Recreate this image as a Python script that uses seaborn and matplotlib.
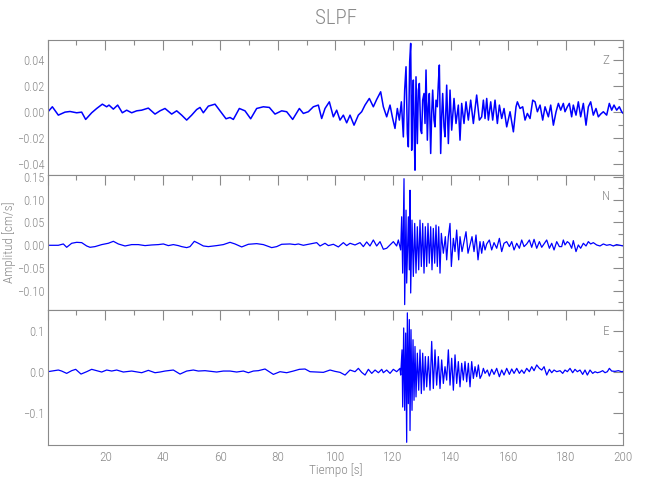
import matplotlib
matplotlib.use("Agg")
import matplotlib.pyplot as plt
from matplotlib import font_manager as fm
import seaborn as sns
from matplotlib.ticker import MultipleLocator, FuncFormatter

# ---------------- data (time in s, amplitude in cm/s) ----------------
station = "SLPF"
components = ["Z", "N", "E"]
x_ticks = [20, 40, 60, 80, 100, 120, 140, 160, 180, 200]

t_z = [0.0, 1.61, 3.69, 6.01, 7.75, 10.06, 11.8, 13.19, 15.28, 17.02,
       18.99, 20.49, 21.3, 22.81, 24.31, 25.93, 27.44, 29.18, 30.92, 32.65,
       34.97, 37.29, 39.02, 40.76, 43.08, 44.82, 46.55, 48.29, 50.03, 51.77,
       52.93, 54.08, 55.82, 58.14, 59.88, 61.96, 63.35, 64.51, 66.59, 68.56,
       70.53, 72.62, 74.93, 77.02, 78.99, 81.31, 83.05, 85.13, 87.45, 88.84,
       90.57, 92.31, 94.05, 95.21, 96.37, 97.87, 99.26, 100.42, 101.58, 102.74,
       103.9, 105.06, 106.45, 107.95, 109.11, 110.27, 111.77, 113.16, 114.32, 115.71,
       116.64, 117.8, 118.96, 119.88, 120.69, 121.5, 122.2, 122.9, 123.59, 124.05,
       124.52, 124.98, 125.33, 125.79, 126.14, 126.49, 126.83, 127.06, 127.41, 127.64,
       127.99, 128.45, 128.8, 129.15, 129.61, 129.96, 130.31, 130.77, 131.12, 131.47,
       131.93, 132.28, 132.62, 133.09, 133.44, 133.78, 134.25, 134.6, 134.94, 135.4,
       135.75, 136.1, 136.56, 136.91, 137.26, 137.72, 138.07, 138.65, 139.23, 139.81,
       140.39, 141.2, 141.89, 142.7, 143.28, 143.86, 144.67, 145.37, 146.18, 146.99,
       147.92, 149.07, 150.0, 150.82, 151.4, 151.98, 152.56, 153.14, 153.95, 154.64,
       155.45, 156.26, 156.96, 157.77, 158.58, 159.51, 160.67, 161.83, 162.75, 163.22,
       164.14, 165.07, 165.88, 166.69, 167.62, 168.55, 169.36, 170.17, 171.1, 172.02,
       172.83, 173.99, 174.8, 175.73, 176.66, 177.47, 178.28, 179.19, 179.77, 180.58,
       181.27, 182.08, 182.66, 183.59, 184.4, 185.21, 186.14, 187.07, 187.88, 188.69,
       189.61, 190.54, 191.35, 192.16, 193.09, 194.25, 195.17, 195.99, 196.8, 197.72,
       198.65, 199.46, 200.0]
z_amp = [0.0, 0.0041, -0.0023, 0.0, 0.0005, -0.0005, 0.0, -0.0056, -0.0005, 0.0028,
         0.0061, 0.0041, 0.0054, 0.0023, 0.0054, -0.0005, 0.0015, -0.0005, 0.001, 0.0015,
         0.0031, -0.0015, 0.001, 0.0028, -0.0015, 0.001, -0.0023, -0.0061, -0.0023, 0.002,
         0.0036, -0.0005, 0.0046, 0.0061, 0.001, -0.0051, -0.0041, -0.0056, 0.0028, 0.001,
         -0.0051, 0.0028, 0.0041, 0.0036, -0.0015, 0.001, 0.0003, -0.0056, 0.0028, -0.001,
         0.0003, 0.0041, 0.0054, -0.0049, 0.0028, 0.0079, -0.0036, 0.0015, -0.0061, -0.0023,
         -0.0082, -0.0023, -0.010, -0.0023, 0.0003, 0.0054, 0.0105, 0.0041, 0.0097, 0.0156,
         0.0041, -0.0036, 0.0054, -0.0049, -0.0125, 0.0028, -0.0061, 0.0079, -0.019, 0.0169,
         0.0348, -0.0164, -0.0266, 0.0387, 0.0527, -0.0292, 0.0118, 0.0246, -0.0215, -0.0445,
         0.0271, -0.0241, 0.0169, 0.022, -0.0138, -0.0164, 0.0092, 0.0143, -0.0087, 0.0323,
         -0.0215, 0.0041, 0.0143, -0.0317, -0.001, 0.0169, -0.0061, -0.0113, 0.0092, 0.0041,
         0.022, 0.0361, -0.0317, -0.0036, 0.0143, -0.0113, -0.0189, 0.0207, -0.0241, 0.0169,
         -0.0138, 0.0105, -0.0087, 0.0054, -0.0215, 0.0067, -0.0087, 0.0079, -0.0061, 0.0092,
         -0.0087, 0.0131, -0.0061, -0.0036, 0.0092, -0.0049, 0.0105, -0.0061, 0.0079, -0.0061,
         0.0092, -0.0087, 0.0054, -0.0049, 0.0028, -0.0113, 0.0003, -0.0151, 0.0041, 0.0079,
         0.0028, 0.0041, -0.0061, -0.001, -0.0049, 0.0092, 0.0079, 0.0003, 0.0054, -0.0061,
         0.0041, -0.0036, 0.0054, -0.01, 0.0003, 0.0067, 0.0015, 0.0067, 0.0003, 0.0041,
         0.0067, -0.0036, 0.0054, -0.0023, 0.0079, -0.0036, 0.0067, -0.01, 0.0041, 0.0079,
         -0.0023, 0.0028, -0.0036, -0.0015, 0.0003, -0.0023, 0.0067, 0.0015, 0.0054, 0.0015,
         0.0041, 0.0003, -0.001]

t_n = [0.0, 3.69, 5.43, 6.59, 8.33, 10.07, 11.81, 13.54, 14.7, 16.44,
       18.76, 21.07, 22.81, 24.55, 26.87, 29.18, 31.5, 33.82, 36.13, 38.45,
       40.19, 41.93, 43.66, 45.4, 46.56, 48.3, 49.45, 50.96, 52.35, 54.09,
       55.82, 58.72, 61.03, 63.35, 65.09, 67.41, 69.73, 72.62, 74.94, 77.84,
       79.57, 81.31, 84.21, 85.95, 87.11, 88.84, 91.16, 93.48, 94.64, 96.37,
       97.53, 99.27, 101.0, 102.74, 103.9, 105.06, 106.79, 108.53, 109.69, 110.85,
       112.0, 113.16, 114.32, 115.48, 116.64, 117.8, 118.96, 120.11, 121.27, 121.85,
       122.66, 123.01, 123.36, 123.82, 124.05, 124.52, 124.75, 125.33, 125.67, 125.91,
       126.14, 126.6, 127.06, 127.53, 127.99, 128.45, 128.92, 129.38, 129.84, 130.31,
       130.77, 131.23, 131.7, 132.16, 132.62, 133.09, 133.55, 134.01, 134.48, 134.94,
       135.4, 135.87, 136.33, 136.79, 137.49, 138.18, 138.65, 139.23, 139.81, 140.27,
       140.97, 141.54, 142.12, 142.82, 143.28, 143.98, 144.67, 145.37, 146.06, 146.76,
       147.45, 148.15, 148.84, 149.54, 150.23, 150.82, 151.4, 151.98, 152.56, 153.48,
       154.29, 155.11, 156.03, 156.96, 157.77, 158.58, 159.51, 160.44, 161.25, 162.06,
       162.99, 163.91, 164.72, 165.54, 166.46, 167.39, 168.2, 169.01, 169.94, 170.86,
       171.68, 172.49, 173.41, 174.34, 175.15, 175.96, 176.89, 177.81, 178.61, 179.19,
       179.77, 180.58, 181.27, 182.08, 182.66, 183.59, 184.4, 185.21, 186.14, 187.07,
       187.88, 188.69, 189.61, 190.77, 191.93, 193.09, 194.25, 195.41, 196.57, 197.72,
       198.88, 200.0]
n_amp = [0.0, 0.0, 0.0029, -0.0044, 0.0044, 0.0065, 0.0058, -0.0015, -0.0044, -0.0029,
         0.0015, 0.0044, 0.0087, 0.0029, -0.0015, 0.0015, 0.0015, -0.0007, 0.0007, 0.0015,
         0.0029, -0.0007, 0.0015, -0.0007, -0.0029, -0.0051, -0.0029, 0.0087, 0.0044, -0.0015,
         -0.0029, -0.0007, 0.0015, 0.0065, 0.0029, -0.0036, 0.0022, 0.0036, 0.0015, -0.0051,
         -0.0029, 0.0022, 0.0029, 0.0015, 0.0029, 0.0, 0.0029, 0.0058, -0.0015, 0.0044,
         -0.0007, 0.0022, -0.0036, 0.0058, -0.0007, 0.0044, 0.0007, 0.0058, -0.0029, 0.0073,
         -0.0015, 0.0116, -0.0015, 0.008, -0.0087, -0.0065, 0.0007, 0.008, -0.0015, 0.0116,
         -0.0102, 0.0624, -0.0609, 0.1457, -0.1298, 0.0769, -0.0827, 0.0624, -0.0537, 0.1204,
         -0.1044, 0.0551, -0.0682, 0.0479, -0.0609, 0.0406, -0.0537, 0.0551, -0.0464, 0.0479,
         -0.0609, 0.0406, -0.0464, 0.0479, -0.0392, 0.0406, -0.0537, 0.037, -0.0392, 0.0442,
         -0.0464, 0.0406, -0.0609, 0.0261, -0.0174, 0.0189, -0.0319, 0.0189, 0.0479, -0.0464,
         0.0152, -0.0138, 0.0334, -0.0319, 0.0189, -0.0138, 0.008, 0.0297, -0.0174, 0.0007,
         0.0189, -0.0138, 0.0225, -0.0319, 0.008, -0.0174, 0.008, -0.0102, 0.0029, 0.0116,
         -0.0102, 0.0058, -0.0065, 0.0152, -0.0138, 0.0044, 0.008, -0.0029, 0.008, -0.0102,
         0.0044, -0.0065, 0.0116, -0.0029, 0.0029, 0.0116, -0.0044, 0.013, -0.0065, 0.008,
         -0.0044, 0.0029, 0.0116, -0.0065, 0.0044, -0.0102, 0.008, -0.0029, -0.0029, 0.0116,
         0.0007, 0.008, 0.0044, -0.0065, 0.0102, -0.0138, 0.0007, -0.0065, 0.0044, -0.0015,
         0.008, 0.0029, 0.0058, 0.0007, -0.0015, 0.0029, 0.0, 0.0015, -0.0015, 0.0015,
         0.0, -0.0015]

t_e = [0.0, 1.38, 3.69, 4.85, 6.59, 8.33, 9.72, 11.57, 13.54, 15.28,
       17.02, 18.76, 20.49, 22.23, 23.97, 26.29, 29.18, 32.66, 34.97, 37.29,
       39.03, 40.76, 43.66, 45.98, 48.29, 50.61, 52.35, 54.67, 58.72, 61.03,
       63.35, 65.67, 67.99, 69.73, 71.46, 73.2, 75.52, 78.42, 80.73, 83.05,
       85.37, 87.45, 89.42, 91.16, 93.48, 95.8, 98.12, 99.85, 101.59, 103.33,
       105.06, 106.8, 107.96, 109.12, 110.28, 111.44, 112.6, 113.76, 114.92, 116.08,
       116.64, 117.8, 118.96, 120.11, 121.27, 122.43, 122.66, 123.13, 123.36, 123.71,
       124.05, 124.4, 124.75, 124.98, 125.33, 125.67, 125.91, 126.25, 126.6, 126.95,
       127.3, 127.64, 127.99, 128.45, 128.92, 129.38, 129.84, 130.31, 130.77, 131.23,
       131.7, 132.28, 132.86, 133.44, 134.01, 134.59, 135.17, 135.75, 136.33, 136.91,
       137.49, 138.07, 138.65, 139.23, 139.81, 140.39, 140.97, 141.55, 142.13, 142.7,
       143.28, 143.86, 144.44, 145.02, 145.6, 146.18, 146.76, 147.34, 147.92, 148.5,
       149.08, 149.66, 150.24, 150.82, 151.4, 151.98, 152.79, 153.48, 154.3, 155.11,
       156.03, 156.96, 157.77, 158.58, 159.51, 160.44, 161.25, 162.06, 162.99, 163.91,
       164.72, 165.54, 166.46, 167.39, 168.2, 169.01, 169.94, 170.86, 171.68, 172.49,
       173.41, 174.34, 175.15, 175.96, 176.89, 178.05, 178.96, 179.77, 180.58, 181.51,
       182.43, 183.24, 184.06, 184.98, 185.91, 186.72, 187.53, 188.46, 189.39, 190.2,
       191.01, 191.93, 192.86, 193.67, 194.48, 195.18, 195.99, 197.15, 198.3, 199.46,
       200.0]
e_amp = [0.0, 0.0016, 0.0041, 0.0016, -0.0041, 0.0025, 0.0058, -0.0058, 0.0, 0.0058,
         0.0025, -0.0008, 0.0041, 0.0016, 0.0041, -0.0008, 0.0016, -0.0025, 0.0033, -0.0025,
         -0.0008, 0.0016, 0.0041, -0.0058, 0.0016, 0.0041, 0.0016, 0.0025, -0.0008, 0.0016,
         0.0016, -0.0008, 0.0016, -0.0025, 0.0016, 0.0025, 0.0066, -0.0066, 0.0, -0.0025,
         0.0016, 0.0058, 0.0066, 0.0, -0.0008, -0.0016, 0.0041, 0.0008, -0.0016, -0.0082,
         0.0041, 0.0, 0.0082, -0.0016, -0.0082, 0.0058, -0.0041, 0.0041, -0.0025, 0.0058,
         -0.0025, 0.0041, -0.0041, 0.0058, 0.0, 0.0082, -0.0082, 0.0535, -0.0864, 0.107,
         -0.0946, 0.0946, -0.1728, 0.144, -0.0782, 0.1276, -0.144, 0.1029, -0.0946, 0.0782,
         -0.07, 0.0617, -0.0617, 0.0453, -0.0453, 0.0535, -0.0535, 0.0453, -0.0453, 0.037,
         -0.037, 0.037, -0.0453, 0.0741, -0.0412, 0.0535, -0.0329, 0.037, -0.0412, 0.0288,
         -0.0288, 0.0123, -0.0206, 0.0535, -0.0329, 0.0329, -0.0453, 0.0412, -0.0288, 0.0247,
         -0.037, 0.0206, -0.0206, 0.0247, -0.0247, 0.0206, -0.037, 0.0247, -0.0165, 0.0123,
         -0.0123, 0.0165, -0.0165, -0.0082, 0.0082, -0.0041, 0.0041, -0.0107, 0.0058, -0.0066,
         0.0082, -0.0123, 0.0041, -0.0082, 0.0082, -0.0066, 0.0066, -0.0041, 0.0082, -0.0041,
         0.0041, -0.0041, 0.0082, 0.0, 0.0123, 0.0025, 0.0165, 0.0082, 0.0041, 0.0123,
         -0.0082, 0.0058, -0.0025, 0.0041, 0.0, 0.0025, -0.0041, 0.0041, 0.0, 0.0082,
         -0.0025, 0.0058, 0.0, 0.0041, -0.0066, 0.0041, -0.0082, 0.0041, -0.0041, 0.0,
         -0.0025, -0.0008, 0.0025, -0.0025, 0.0, 0.0082, 0.0016, 0.0008, 0.0025, 0.0,
         0.0008]

# ---------------- style ----------------
sns.set_style("white")

# pick the narrowest installed sans font (the reference uses a thin, narrow font)
names = {f.name for f in fm.fontManager.ttflist}
stretch = "normal"
weight = "normal"
if "Liberation Sans Narrow" in names:
    family = "Liberation Sans Narrow"
elif "Roboto Condensed" in names:
    family = "Roboto Condensed"
    weight = "light"
elif any(f.name == "DejaVu Sans" and "Condensed" in f.fname for f in fm.fontManager.ttflist):
    family = "DejaVu Sans"
    stretch = "condensed"
elif "Roboto" in names:
    family = "Roboto"
    weight = "light"
else:
    family = "DejaVu Sans"
plt.rcParams["font.family"] = [family, "DejaVu Sans"]
plt.rcParams["font.stretch"] = stretch
plt.rcParams["font.weight"] = weight

GRAY = "#8a8a8a"
BLUE = "#0000ff"

fig = plt.figure(figsize=(6.5, 5.0), dpi=100)
left, width, height = 0.0734, 0.8854, 0.27
bottoms = [0.65, 0.38, 0.11]
ylims = [(-0.0482, 0.0553), (-0.1416, 0.1538), (-0.1794, 0.151)]
ymajor = [0.02, 0.05, 0.1]
yminor = [0.01, 0.025, 0.05]
yfmt = ["{:.2f}", "{:.2f}", "{:.1f}"]
series = [(t_z, z_amp), (t_n, n_amp), (t_e, e_amp)]
line_w = [1.1, 0.9, 0.9]
label_y = [0.847, 0.839, 0.839]

for i, (t, a) in enumerate(series):
    assert len(t) == len(a)
    ax = fig.add_axes([left, bottoms[i], width, height])
    sns.lineplot(x=t, y=a, ax=ax, color=BLUE, linewidth=line_w[i],
                 estimator=None, sort=False, errorbar=None)
    ax.set_xlim(0, 200)
    ax.set_ylim(*ylims[i])
    ax.set_xlabel("")
    ax.set_ylabel("")
    ax.xaxis.set_major_locator(MultipleLocator(20))
    ax.xaxis.set_minor_locator(MultipleLocator(10))
    ax.yaxis.set_major_locator(MultipleLocator(ymajor[i]))
    ax.yaxis.set_minor_locator(MultipleLocator(yminor[i]))
    f = yfmt[i]
    ax.yaxis.set_major_formatter(FuncFormatter(
        lambda v, p, f=f: f.format(0.0 if abs(v) < 1e-9 else v).replace("-", "\u2212")))
    if i == 2:
        ax.xaxis.set_major_formatter(FuncFormatter(
            lambda v, p: "{:d}".format(int(round(v))) if int(round(v)) in x_ticks else ""))
    else:
        ax.tick_params(axis="x", labelbottom=False)
    ax.tick_params(which="both", direction="in", top=True, right=True,
                   color=GRAY, labelcolor=GRAY, width=0.8, labelsize=9.5, pad=2)
    ax.tick_params(axis="y", which="both", labelsize=9)
    ax.tick_params(axis="x", which="both", pad=4)
    ax.tick_params(which="major", length=7)
    ax.tick_params(which="minor", length=3.5)
    for s in ax.spines.values():
        s.set_color(GRAY)
        s.set_linewidth(0.8)
    ax.text(0.970, label_y[i], components[i], transform=ax.transAxes,
            ha="center", va="center", color=GRAY, fontsize=9.5)

fig.text(335.5 / 650, 1 - 18.5 / 500, station, ha="center", va="center",
         color=GRAY, fontsize=15)
fig.text(335.5 / 650, 1 - 470 / 500, "Tiempo [s]", ha="center", va="center",
         color=GRAY, fontsize=9.5)
fig.text(9.5 / 650, 1 - 242.5 / 500, "Amplitud [cm/s]", ha="center", va="center",
         rotation=90, color=GRAY, fontsize=9.5)

fig.savefig("out.png", dpi=100, facecolor="white")
